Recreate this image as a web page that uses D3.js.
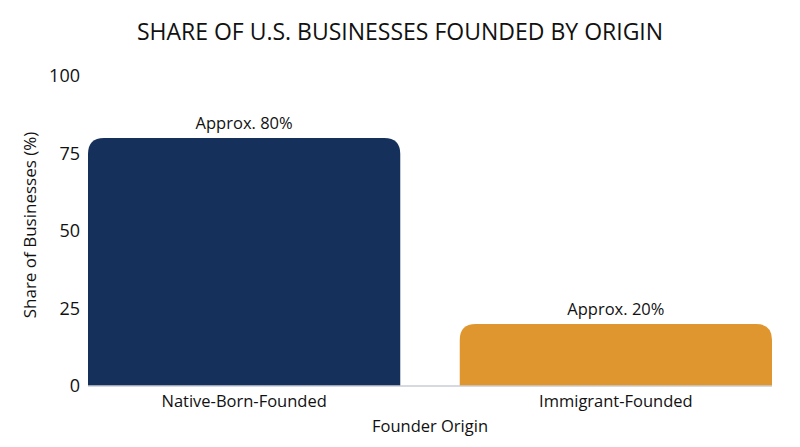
<!DOCTYPE html>
<html>
<head>
<meta charset="utf-8">
<script src="https://cdn.jsdelivr.net/npm/d3@7"></script>
<style>
  body { margin: 0; background: #fff; }
  text { font-family: "Open Sans", "DejaVu Sans", sans-serif; fill: #111; }
</style>
</head>
<body>
<div id="chart"></div>
<script>
// Data
const categories = ["Native-Born-Founded", "Immigrant-Founded"];
const shares = [80, 20];
const valueLabels = ["Approx. 80%", "Approx. 20%"];
const barColors = ["#16305c", "#e0962e"];
const yTicks = [0, 25, 50, 75, 100];

const width = 800, height = 447;
const margin = { top: 76, right: 28, bottom: 61, left: 88 };

const svg = d3.select("#chart").append("svg")
  .attr("width", width)
  .attr("height", height);

// Title
svg.append("text")
  .attr("x", width / 2)
  .attr("y", 40)
  .attr("text-anchor", "middle")
  .style("font-size", "23px")
  .text("SHARE OF U.S. BUSINESSES FOUNDED BY ORIGIN");

const x = d3.scaleBand()
  .domain(categories)
  .range([margin.left, width - margin.right])
  .paddingInner(0.16)
  .paddingOuter(0);

const y = d3.scaleLinear()
  .domain([0, 100])
  .range([height - margin.bottom, margin.top]);

// Y tick labels (no axis line)
const yAxis = svg.append("g")
  .attr("transform", `translate(${margin.left},0)`)
  .call(d3.axisLeft(y).tickValues(yTicks).tickSize(0).tickPadding(8));
yAxis.select(".domain").remove();
yAxis.selectAll("text")
  .style("font-size", "18px")
  .attr("fill", "#111");

// Bars with rounded top corners
const r = 16;
function barPath(x0, y0, w, h) {
  const rr = Math.min(r, h, w / 2);
  return `M${x0},${y0 + h}V${y0 + rr}Q${x0},${y0} ${x0 + rr},${y0}` +
    `H${x0 + w - rr}Q${x0 + w},${y0} ${x0 + w},${y0 + rr}V${y0 + h}Z`;
}

svg.selectAll(".bar")
  .data(categories)
  .enter()
  .append("path")
  .attr("class", "bar")
  .attr("d", (d, i) => barPath(x(d), y(shares[i]), x.bandwidth(), y(0) - y(shares[i])))
  .attr("fill", (d, i) => barColors[i]);

// Baseline
svg.append("line")
  .attr("x1", margin.left)
  .attr("x2", width - margin.right)
  .attr("y1", y(0))
  .attr("y2", y(0))
  .attr("stroke", "#c8ccd4")
  .attr("stroke-width", 1.5);

// Value labels
svg.selectAll(".val")
  .data(categories)
  .enter()
  .append("text")
  .attr("class", "val")
  .attr("x", d => x(d) + x.bandwidth() / 2)
  .attr("y", (d, i) => y(shares[i]) - 9)
  .attr("text-anchor", "middle")
  .style("font-size", "16.5px")
  .text((d, i) => valueLabels[i]);

// X category labels
const xAxis = svg.append("g")
  .attr("transform", `translate(0,${y(0)})`)
  .call(d3.axisBottom(x).tickSize(0).tickPadding(9));
xAxis.select(".domain").remove();
xAxis.selectAll("text")
  .style("font-size", "16.5px")
  .attr("fill", "#111");

// Axis titles
svg.append("text")
  .attr("x", (margin.left + width - margin.right) / 2)
  .attr("y", height - 15)
  .attr("text-anchor", "middle")
  .style("font-size", "16.5px")
  .text("Founder Origin");

svg.append("text")
  .attr("transform", "rotate(-90)")
  .attr("x", -225)
  .attr("y", 36)
  .attr("text-anchor", "middle")
  .style("font-size", "17px")
  .text("Share of Businesses (%)");
</script>
</body>
</html>
